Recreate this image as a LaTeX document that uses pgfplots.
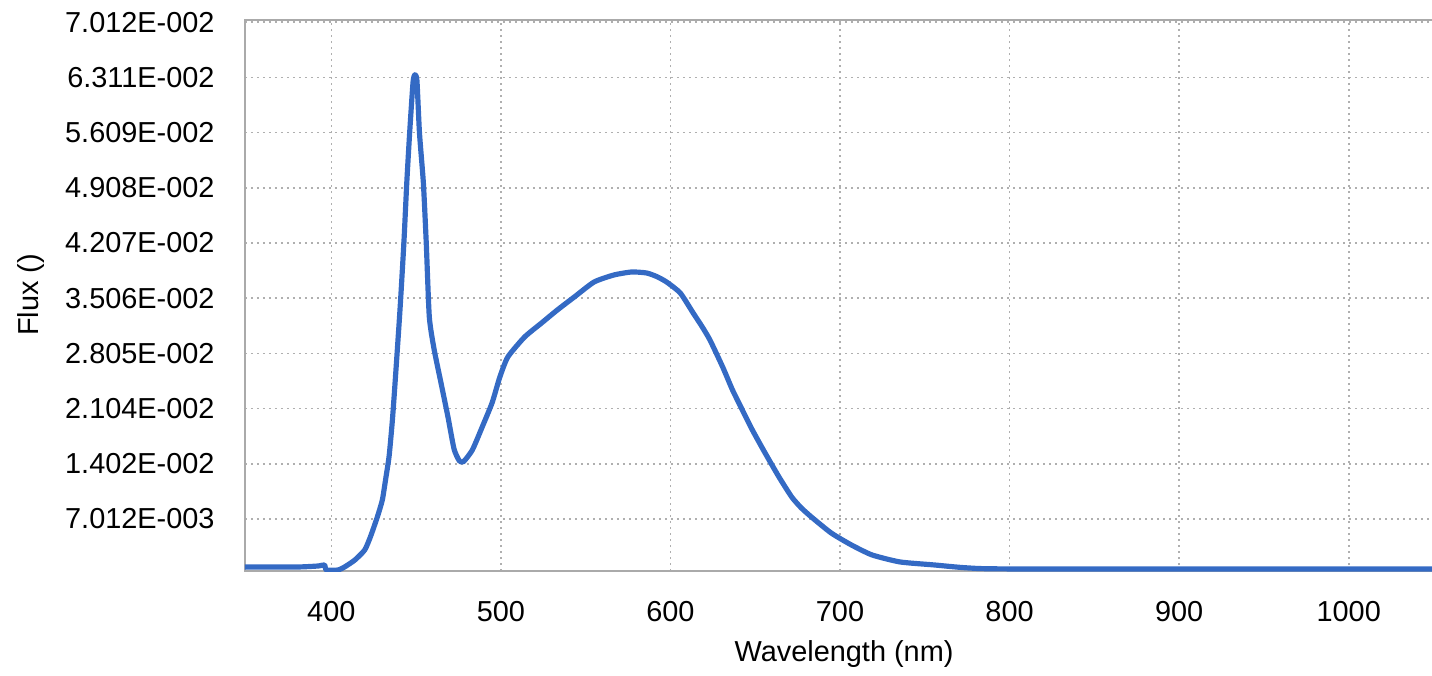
\documentclass[border=0pt]{standalone}
\usepackage{fontspec}
\setmainfont{Liberation Sans}
\usepackage{pgfplots}
\pgfplotsset{compat=1.18}

\definecolor{fluxblue}{RGB}{52,106,196}
\definecolor{gridgray}{RGB}{175,175,175}
\definecolor{boxgray}{RGB}{170,170,170}

% spectrum (wavelength nm, flux)
\pgfplotstableread{
x       y
349.1   0.00091
380.0   0.00091
392.5   0.00104
396.0   0.00117
397.1   0.00053
404.0   0.00053
408.1   0.00095
413.9   0.00180
419.7   0.00307
423.1   0.00476
427.2   0.00730
430.1   0.00943
432.0   0.01200
434.1   0.01500
436.0   0.01950
437.6   0.02429
440.5   0.03356
442.8   0.04207
444.5   0.04969
446.2   0.05605
448.2   0.06250
449.3   0.06345
450.5   0.06270
452.0   0.05605
454.3   0.04969
456.0   0.04207
457.8   0.03267
460.7   0.02848
464.7   0.02429
468.8   0.01997
472.4   0.01589
475.5   0.01440
478.0   0.01430
483.2   0.01578
489.0   0.01870
494.8   0.02175
499.4   0.02505
504.1   0.02759
514.0   0.03013
524.0   0.03191
533.3   0.03356
543.3   0.03521
555.0   0.03712
566.7   0.03801
577.2   0.03839
586.0   0.03826
592.0   0.03780
597.7   0.03712
605.8   0.03572
613.4   0.03318
618.5   0.03150
623.3   0.02975
630.8   0.02632
636.6   0.02340
642.4   0.02086
648.3   0.01832
655.8   0.01540
664.0   0.01235
671.5   0.00981
677.0   0.00845
683.1   0.00727
694.8   0.00523
706.7   0.00371
718.9   0.00244
735.4   0.00155
755.5   0.00117
775.6   0.00079
806.0   0.00066
1050.9  0.00066
}\flux

\begin{document}
\begin{tikzpicture}
\begin{axis}[
    at={(0,0)}, anchor=south west,
    scale only axis,
    width=595bp, height=275.5bp,
    xmin=349.1, xmax=1050.9,
    ymin=0.0004, ymax=0.0704,
    font=\fontsize{14.5}{17}\selectfont,
    /pgf/number format/assume math mode=true,
    /pgf/number format/1000 sep={},
    scaled y ticks=false,
    xtick={400,500,...,1000},
    ytick={0.007012,0.014024,0.021036,0.028048,0.03506,0.042072,0.049084,0.056096,0.063108,0.07012},
    yticklabels={7.012E-003,1.402E-002,2.104E-002,2.805E-002,3.506E-002,4.207E-002,4.908E-002,5.609E-002,6.311E-002,7.012E-002},
    xticklabel shift=11.5bp,
    yticklabel shift=11.7bp,
    major tick length=0pt,
    grid=major,
    major grid style={draw=gridgray, line width=0.8bp, dash pattern=on 0.8bp off 2.2bp},
    axis line style={draw=boxgray, line width=1bp},
    xlabel={Wavelength (nm)},
    ylabel={Flux ()},
    xlabel style={at={(axis description cs:0.5034,-0.1646)}, anchor=base},
    ylabel style={at={(axis description cs:-0.1735,0.5009)}, anchor=base},
]
\addplot[fluxblue, line width=2.6pt, line join=round, line cap=round, smooth, tension=0.35] table[x=x, y=y] {\flux};
\end{axis}
\pgfresetboundingbox
\path[use as bounding box] (-122.5bp,-52.5bp) rectangle (593.5bp,285.5bp);
\end{tikzpicture}
\end{document}
